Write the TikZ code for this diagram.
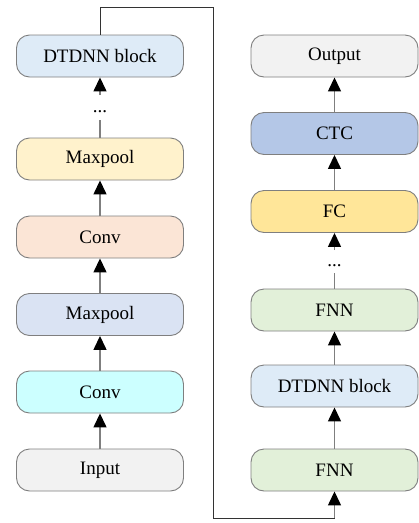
\documentclass[tikz,border=0pt]{standalone}
\usepackage{fontspec}
\setmainfont{Liberation Serif}
\usetikzlibrary{arrows.meta}
\definecolor{cDT}{HTML}{DEEBF7}
\definecolor{cMPy}{HTML}{FFF2CC}
\definecolor{cConvO}{HTML}{FBE5D6}
\definecolor{cMPb}{HTML}{DAE3F3}
\definecolor{cConvC}{HTML}{CCFFFF}
\definecolor{cIO}{HTML}{F2F2F2}
\definecolor{cCTC}{HTML}{B4C7E7}
\definecolor{cFC}{HTML}{FFE699}
\definecolor{cFNN}{HTML}{E2F0D9}
\definecolor{cBorder}{HTML}{7F7F7F}
\begin{document}
\begin{tikzpicture}[x=1pt,y=-1pt,
  blk/.style={draw=cBorder, line width=0.9pt, rounded corners=13pt, minimum width=167pt, minimum height=42pt, inner sep=0pt, font=\fontsize{19}{21}\selectfont},
  arr/.style={draw=cBorder, line width=1.4pt, -{Triangle[width=13pt,length=14pt,color=black]}},
  ln/.style={draw=cBorder, line width=1.4pt},
  loopln/.style={draw=black!80, line width=0.9pt},
  dotsn/.style={inner sep=0pt, font=\fontsize{19}{21}\selectfont}]
\useasboundingbox (0,0) rectangle (419,523);
% left column
\node[blk, fill=cDT] (dtL) at (100,56) {DTDNN block};
\node[blk, fill=cMPy] (mpY) at (100,159) {Maxpool};
\node[blk, fill=cConvO] (cvO) at (100,237) {Conv};
\node[blk, fill=cMPb] (mpB) at (100,314.5) {Maxpool};
\node[blk, fill=cConvC] (cvC) at (100,392) {Conv};
\node[blk, fill=cIO] (inp) at (100,470) {Input};
% right column
\node[blk, fill=cIO] (out) at (334.5,56) {Output};
\node[blk, fill=cCTC] (ctc) at (334.5,133.5) {CTC};
\node[blk, fill=cFC] (fc) at (334.5,211.5) {FC};
\node[blk, fill=cFNN] (fnnT) at (334.5,310) {FNN};
\node[blk, fill=cDT] (dtR) at (334.5,386) {DTDNN block};
\node[blk, fill=cFNN] (fnnB) at (334.5,470) {FNN};
% dots
\node[dotsn] (dotsL) at (100,112) {...};
\node[dotsn] (dotsR) at (334.5,266) {...};
\coordinate (dL1) at (100,120);
\coordinate (dL2) at (100,95);
\coordinate (dR1) at (334.5,273);
\coordinate (dR2) at (334.5,250);
% left arrows
\draw[arr] (inp) -- (cvC);
\draw[arr] (cvC) -- (mpB);
\draw[arr] (mpB) -- (cvO);
\draw[arr] (cvO) -- (mpY);
\draw[ln] (mpY.north) -- (dL1);
\draw[arr] (dL2) -- (dtL.south);
% right arrows
\draw[arr] (fnnB) -- (dtR);
\draw[arr] (dtR) -- (fnnT);
\draw[ln] (fnnT.north) -- (dR1);
\draw[arr] (dR2) -- (fc.south);
\draw[arr] (fc) -- (ctc);
\draw[arr] (ctc) -- (out);
% loop connector
\coordinate (lp1) at (100,7);
\coordinate (lp2) at (213,7);
\coordinate (lp3) at (213,518);
\coordinate (lp4) at (334.5,518);
\draw[loopln] (dtL.north) -- (lp1) -- (lp2) -- (lp3) -- (lp4);
\draw[arr] (lp4) -- (fnnB.south);
\end{tikzpicture}
\end{document}
